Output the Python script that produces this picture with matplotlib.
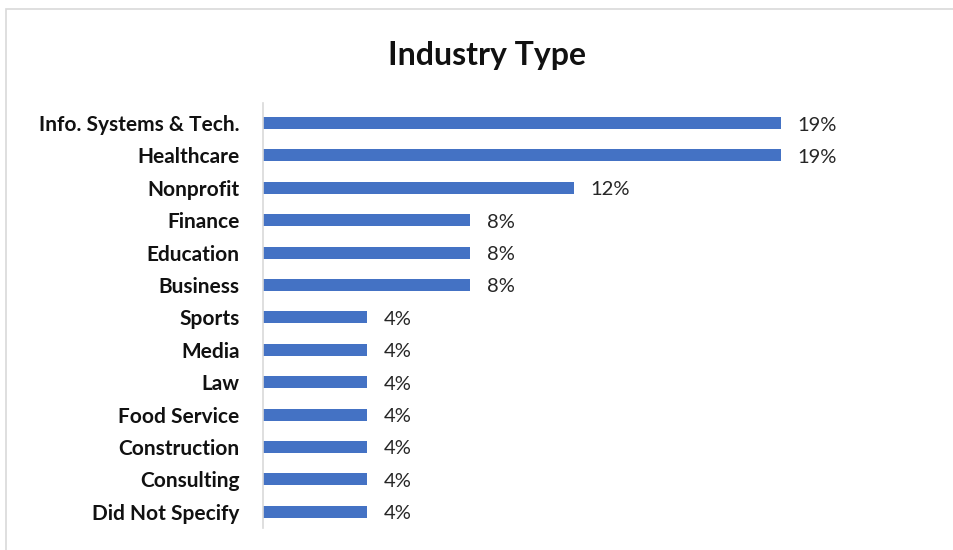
import matplotlib
matplotlib.use("Agg")
import matplotlib.pyplot as plt
from matplotlib.patches import Rectangle

# Industry counts (26 respondents), top to bottom
industries = ["Info. Systems & Tech.", "Healthcare", "Nonprofit", "Finance",
              "Education", "Business", "Sports", "Media", "Law",
              "Food Service", "Construction", "Consulting", "Did Not Specify"]
counts = [5, 5, 3, 2, 2, 2, 1, 1, 1, 1, 1, 1, 1]
total = sum(counts)
shares = [c / total * 100 for c in counts]

plt.rcParams["font.family"] = ["Lato", "DejaVu Sans"]

fig = plt.figure(figsize=(9.54, 5.5), dpi=100)
W, H = 954, 550

# light gray chart frame (cropped at right/bottom)
fig.patches.append(Rectangle((6 / W, -0.1), 1.2, (H - 9) / H + 0.1,
                             transform=fig.transFigure, fill=False,
                             edgecolor="#d9d9d9", linewidth=1.2))

ax = fig.add_axes([263 / W, (H - 528) / H, 637 / W, 425 / H])
ypos = list(range(len(industries)))
ax.barh(ypos, shares, height=0.37, color="#4472C4")
ax.set_xlim(0, 23.65)
ax.set_ylim(12.5, -0.62)

for y, v in zip(ypos, shares):
    ax.text(v + 0.62, y + 0.06, f"{round(v)}%", va="center", ha="left",
            fontsize=14.5, color="#262626")

ax.set_yticks(ypos)
ax.set_yticklabels(industries, fontsize=15, fontweight="bold", color="#111111")
ax.tick_params(axis="y", length=0, pad=17)
ax.set_xticks([])
for side in ["top", "right", "bottom"]:
    ax.spines[side].set_visible(False)
ax.spines["left"].set_color("#d9d9d9")
ax.spines["left"].set_linewidth(1.2)

fig.text(487 / W, 1 - 55 / H, "Industry Type", ha="center", va="center",
         fontsize=23, fontweight="bold", color="#111111")

fig.savefig("out.png", dpi=100)
plt.close(fig)
